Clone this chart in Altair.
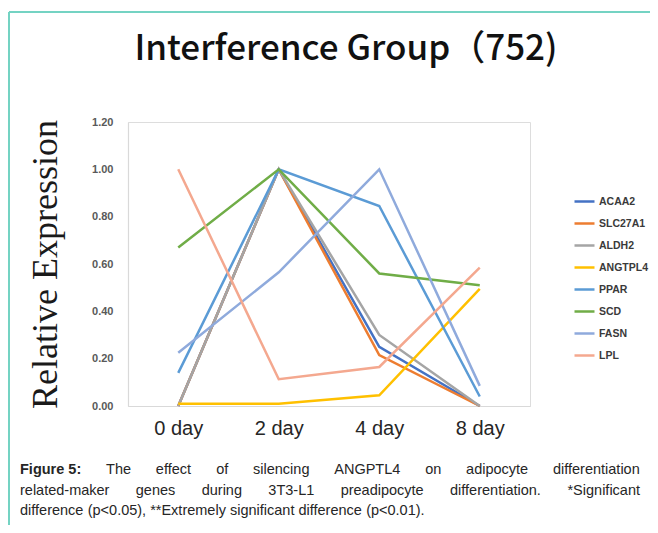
import altair as alt
import pandas as pd

# ---------------- data ----------------
days = ["0 day", "2 day", "4 day", "8 day"]
genes = ["ACAA2", "SLC27A1", "ALDH2", "ANGTPL4", "PPAR", "SCD", "FASN", "LPL"]
colors = ["#4472C4", "#ED7D31", "#A5A5A5", "#FFC000", "#5B9BD5", "#70AD47", "#8FAADC", "#F4A88F"]

acaa2 = [0.00, 1.00, 0.25, 0.00]
slc27a1 = [0.00, 1.00, 0.215, 0.00]
aldh2 = [0.00, 1.00, 0.30, 0.00]
angtpl4 = [0.01, 0.01, 0.045, 0.495]
ppar = [0.14, 1.00, 0.845, 0.04]
scd = [0.67, 1.00, 0.56, 0.51]
fasn = [0.225, 0.565, 1.00, 0.085]
lpl = [1.00, 0.113, 0.165, 0.585]

y_ticks = [0.0, 0.2, 0.4, 0.6, 0.8, 1.0, 1.2]

title_text = "Interference Group\uff08752)"
y_title = "Relative Expression"
caption_bold = "Figure 5:"
caption_lines = [
    "The effect of silencing ANGPTL4 on adipocyte differentiation",
    "related-maker genes during 3T3-L1 preadipocyte differentiation. *Significant",
    "difference (p<0.05), **Extremely significant difference (p<0.01).",
]

series = [acaa2, slc27a1, aldh2, angtpl4, ppar, scd, fasn, lpl]
rows = []
for g, vals in zip(genes, series):
    for d, v in zip(days, vals):
        rows.append({"gene": g, "day": d, "value": v, "gi": genes.index(g)})
df = pd.DataFrame(rows)

# ---------------- layout constants ----------------
W, H = 402, 284
PAD = {"left": 120, "top": 114, "right": 120, "bottom": 119}

# ---------------- caption word layout (Arial/Liberation metrics) ----------------
reg = {" ": 278, "(": 333, ")": 333, "*": 389, ",": 278, "-": 333, ".": 278, ":": 278,
       "<": 584, ">": 584}
for ch in "0123456789":
    reg[ch] = 556
upper = dict(zip("ABCDEFGHIJKLMNOPQRSTUVWXYZ",
                 [667, 667, 722, 722, 667, 611, 778, 722, 278, 500, 667, 556, 833, 722, 778,
                  667, 778, 722, 667, 611, 722, 667, 944, 667, 667, 611]))
lower = dict(zip("abcdefghijklmnopqrstuvwxyz",
                 [556, 556, 500, 556, 556, 278, 556, 556, 222, 222, 500, 222, 833, 556, 556,
                  556, 556, 333, 500, 278, 556, 500, 722, 500, 500, 500]))
reg.update(upper)
reg.update(lower)
bold = dict(reg)
bold.update({"g": 611, "u": 611, "r": 389, "i": 278, ":": 333})

FS = 14.5
LEFT = -108
RIGHT = 512
BASE = [352, 373, 393]


def wwidth(w, table):
    return sum(table.get(c, 556) for c in w) * FS / 1000.0


cap_rows = []
for li, line in enumerate(caption_lines):
    words = [(w, False) for w in line.split(" ")]
    if li == 0:
        words = [(caption_bold, True)] + words
    widths = [wwidth(w, bold if b else reg) for w, b in words]
    if li < len(caption_lines) - 1:
        gap = (RIGHT - LEFT - sum(widths)) / (len(words) - 1)
    else:
        gap = 278 * FS / 1000.0
    x = LEFT
    for (w, b), wd in zip(words, widths):
        cap_rows.append({"word": w, "x": x, "y": BASE[li], "bold": b})
        x += wd + gap
cap_df = pd.DataFrame(cap_rows)

# ---------------- chart ----------------
color_scale = alt.Scale(domain=genes, range=colors)

lines = alt.Chart(df).mark_line(strokeWidth=2.5).encode(
    x=alt.X("day:N", sort=days, scale=alt.Scale(paddingOuter=0.5, paddingInner=0),
            axis=alt.Axis(title=None, labelAngle=0, ticks=False, labelFontSize=20,
                          labelColor="#262626", labelPadding=12, labelFont="Liberation Sans",
                          domainColor="#d9d9d9", domainWidth=1.2, grid=False)),
    y=alt.Y("value:Q", scale=alt.Scale(domain=[0, 1.2], nice=False),
            axis=alt.Axis(title=y_title, values=y_ticks, format=".2f", ticks=False,
                          labelFontSize=11, labelFontWeight="bold", labelColor="#595959",
                          labelPadding=15, labelFont="Liberation Sans",
                          titleFont="Liberation Serif", titleFontSize=36,
                          titleFontWeight="normal", titleColor="#1a1a1a", titlePadding=27,
                          domainColor="#d9d9d9", domainWidth=1.2, grid=False)),
    color=alt.Color("gene:N", scale=color_scale, sort=genes,
                    legend=alt.Legend(title=None, orient="none", legendX=445, legendY=68,
                                      symbolType="stroke", symbolSize=400,
                                      symbolStrokeWidth=2.5, labelFontSize=10.5,
                                      labelFontWeight="bold", labelColor="#3a3a3a",
                                      labelFont="Liberation Sans", labelOffset=3,
                                      rowPadding=5, padding=0)),
    order=alt.Order("gi:Q"),
)

title_df = pd.DataFrame({"t": [title_text]})
title = alt.Chart(title_df).mark_text(
    align="center", baseline="alphabetic", fontSize=35, font="Noto Sans CJK SC",
    fontWeight=500, color="#111111"
).encode(x=alt.value(218), y=alt.value(-62), text="t:N")

cap_reg = alt.Chart(cap_df).transform_filter("!datum.bold").mark_text(
    align="left", baseline="alphabetic", fontSize=FS, font="Liberation Sans", color="#262626"
).encode(x=alt.X("x:Q", scale=None), y=alt.Y("y:Q", scale=None), text="word:N")

cap_bold = alt.Chart(cap_df).transform_filter("datum.bold").mark_text(
    align="left", baseline="alphabetic", fontSize=FS, font="Liberation Sans",
    fontWeight="bold", color="#262626"
).encode(x=alt.X("x:Q", scale=None), y=alt.Y("y:Q", scale=None), text="word:N")

one = pd.DataFrame({"k": [0]})
border_top = alt.Chart(one).mark_rule(color="#74d3c3", strokeWidth=2).encode(
    x=alt.value(-119), x2=alt.value(530), y=alt.value(-110))
border_left = alt.Chart(one).mark_rule(color="#74d3c3", strokeWidth=2).encode(
    x=alt.value(-119), y=alt.value(-110), y2=alt.value(410))

chart = alt.layer(border_top, border_left, title, lines, cap_reg, cap_bold).properties(
    width=W, height=H,
    autosize=alt.AutoSizeParams(type="none"),
    padding=PAD,
).configure_view(stroke=None).configure(background="white")

chart.save("out.html", embed_options={"renderer": "svg", "actions": False})
